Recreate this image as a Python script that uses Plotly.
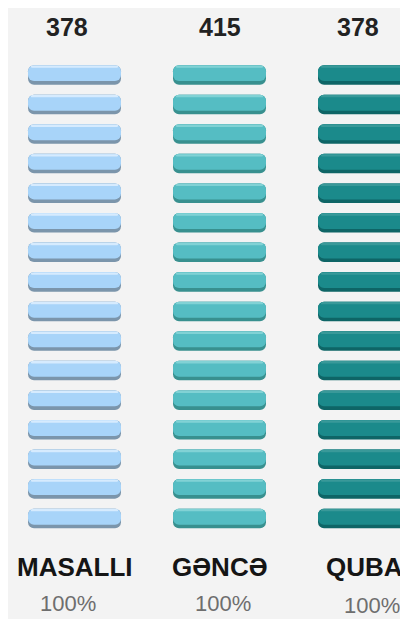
import plotly.graph_objects as go

# ---- data ----
regions = ["MASALLI", "GƏNCƏ", "QUBA"]
counts = [378, 415, 378]
percents = ["100%", "100%", "100%"]
units_per_column = 16

# ---- style ----
main_colors = ["#a8d4f9", "#55bdc3", "#1b8a8b"]
edge_colors = ["#7b95ab", "#38908f", "#0e6566"]
hi_colors = ["rgba(225,240,255,0.8)", "rgba(140,215,218,0.8)", "rgba(70,160,160,0.7)"]
bg = "#f3f3f3"

OFF = 8                 # browser body margin
W, H = 408 - OFF, 619 - OFF
col_px = 145.0          # px between column centres
x0_px = 74.5 - OFF      # px of first column centre
bar_w = 93.0 / col_px   # bar width in x units
slot_px = 29.57         # px between bar centres
y0_px = 74.0 - OFF      # px of first bar centre

fig = go.Figure()
slots = list(range(units_per_column))
for i, reg in enumerate(regions):
    left = i - bar_w / 2
    # darker bottom edge
    fig.add_trace(go.Bar(
        orientation="h", y=[s + 0.03 for s in slots], x=[bar_w] * units_per_column,
        base=[left] * units_per_column, width=0.66,
        marker=dict(color=edge_colors[i], cornerradius=6, line=dict(width=0)),
        hoverinfo="skip", showlegend=False))
    # main face
    fig.add_trace(go.Bar(
        orientation="h", y=[s - 0.03 for s in slots], x=[bar_w] * units_per_column,
        base=[left] * units_per_column, width=0.54,
        marker=dict(color=main_colors[i], cornerradius=6, line=dict(width=0)),
        name=reg, showlegend=False))
    # soft top highlight
    fig.add_trace(go.Bar(
        orientation="h", y=[s - 0.25 for s in slots], x=[bar_w - 0.04] * units_per_column,
        base=[left + 0.02] * units_per_column, width=0.08,
        marker=dict(color=hi_colors[i], cornerradius=2, line=dict(width=0)),
        hoverinfo="skip", showlegend=False))

def py(px):
    return 1 - (px - OFF) / H

num_shift = [-8, 0, -7]
pct_shift = [-7, 3, 7]
for i, reg in enumerate(regions):
    fig.add_annotation(x=i, y=py(27), xref="x", yref="paper", text=f"<b>{counts[i]}</b>",
                       showarrow=False, xshift=num_shift[i], xanchor="center", yanchor="middle",
                       font=dict(family="Liberation Sans, Arial", size=25, color="#222222"))
    fig.add_annotation(x=i, y=py(567), xref="x", yref="paper", text=f"<b>{reg}</b>",
                       showarrow=False, xanchor="center", yanchor="middle",
                       font=dict(family="Liberation Sans, Arial", size=26, color="#151515"))
    fig.add_annotation(x=i, y=py(603 + (2 if i == 2 else 0)), xref="x", yref="paper",
                       text=percents[i], showarrow=False, xshift=pct_shift[i],
                       xanchor="center", yanchor="middle",
                       font=dict(family="Liberation Sans, Arial", size=22, color="#6e6e6e"))

fig.update_layout(
    width=W, height=H, margin=dict(l=0, r=0, t=0, b=0),
    paper_bgcolor=bg, plot_bgcolor=bg, barmode="overlay",
    xaxis=dict(range=[-x0_px / col_px, (W - x0_px) / col_px], visible=False, fixedrange=True),
    yaxis=dict(range=[(H - y0_px) / slot_px, -y0_px / slot_px], visible=False, fixedrange=True),
)

fig.write_html("out.html")
